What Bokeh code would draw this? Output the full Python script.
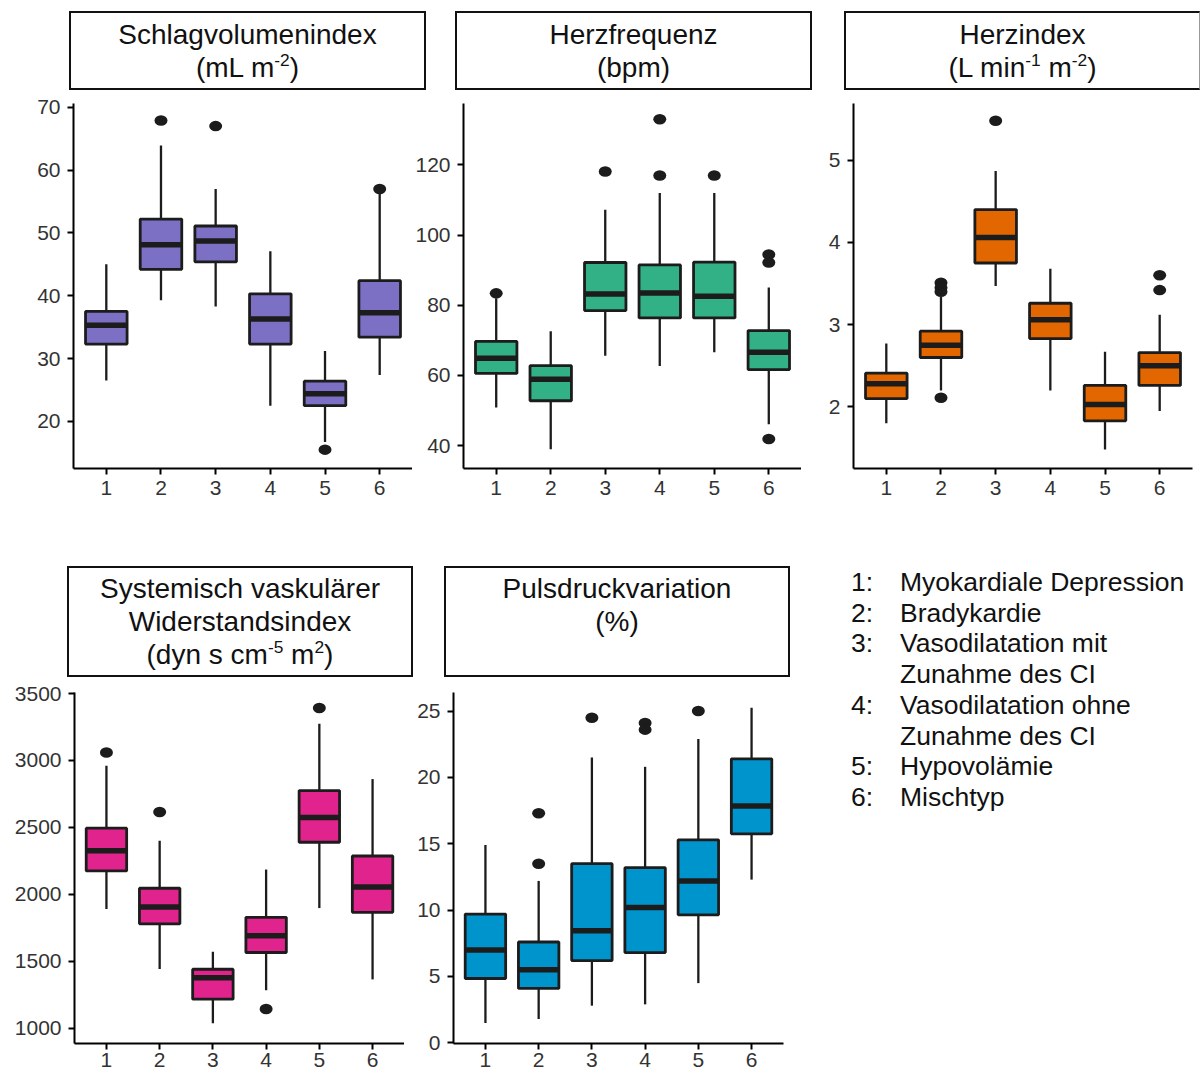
from bokeh.plotting import figure
from bokeh.models import Range1d, FixedTicker, Div
from bokeh.layouts import column, row
from bokeh.embed import file_html
from bokeh.resources import INLINE

# ---------------- data ----------------
groups = [1, 2, 3, 4, 5, 6]
x_labels = ["1", "2", "3", "4", "5", "6"]

# Schlagvolumenindex (mL m-2)
svi_lo = [26.5, 39.3, 38.3, 22.5, 16.7, 27.4]
svi_q1 = [32.3, 44.2, 45.4, 32.3, 22.5, 33.4]
svi_med = [35.3, 48.1, 48.7, 36.3, 24.4, 37.3]
svi_q3 = [37.5, 52.2, 51.1, 40.3, 26.4, 42.4]
svi_hi = [45.0, 63.9, 57.0, 47.1, 31.2, 56.2]
svi_out_x = [2, 3, 5, 6]
svi_out_y = [67.9, 67.0, 15.5, 57.0]
svi_ticks = [20, 30, 40, 50, 60, 70]

# Herzfrequenz (bpm)
hf_lo = [50.9, 39.0, 65.6, 62.7, 66.6, 46.1]
hf_q1 = [60.6, 52.8, 78.5, 76.4, 76.4, 61.7]
hf_med = [64.9, 58.9, 83.2, 83.5, 82.6, 66.6]
hf_q3 = [69.7, 62.8, 92.2, 91.5, 92.3, 72.8]
hf_hi = [82.0, 72.6, 107.2, 112.0, 112.0, 85.1]
hf_out_x = [1, 3, 4, 4, 5, 6, 6, 6]
hf_out_y = [83.4, 118.1, 133.0, 117.0, 117.0, 94.5, 92.2, 41.9]
hf_ticks = [40, 60, 80, 100, 120]

# Herzindex (L min-1 m-2)
hi_lo = [1.80, 2.20, 3.47, 2.20, 1.48, 1.95]
hi_q1 = [2.10, 2.60, 3.75, 2.83, 1.83, 2.26]
hi_med = [2.28, 2.75, 4.06, 3.06, 2.03, 2.50]
hi_q3 = [2.41, 2.92, 4.40, 3.26, 2.26, 2.66]
hi_hi = [2.77, 3.34, 4.87, 3.68, 2.67, 3.12]
hi_out_x = [2, 2, 2, 2, 3, 6, 6]
hi_out_y = [3.51, 3.45, 3.40, 2.11, 5.48, 3.60, 3.42]
hi_ticks = [2, 3, 4, 5]

# Systemisch vaskulärer Widerstandsindex (dyn s cm-5 m2)
svr_lo = [1890, 1442, 1037, 1283, 1897, 1364]
svr_q1 = [2175, 1779, 1216, 1565, 2389, 1865]
svr_med = [2325, 1905, 1376, 1691, 2573, 2054]
svr_q3 = [2494, 2045, 1440, 1828, 2775, 2286]
svr_hi = [2961, 2401, 1570, 2185, 3274, 2861]
svr_out_x = [1, 2, 4, 5]
svr_out_y = [3060, 2615, 1143, 3392]
svr_ticks = [1000, 1500, 2000, 2500, 3000, 3500]

# Pulsdruckvariation (%)
ppv_lo = [1.5, 1.8, 2.8, 2.9, 4.5, 12.3]
ppv_q1 = [4.85, 4.1, 6.2, 6.8, 9.65, 15.75]
ppv_med = [7.0, 5.5, 8.45, 10.2, 12.2, 17.85]
ppv_q3 = [9.7, 7.6, 13.5, 13.2, 15.3, 21.4]
ppv_hi = [14.9, 12.2, 21.5, 20.8, 22.9, 25.25]
ppv_out_x = [2, 2, 3, 4, 4, 5]
ppv_out_y = [17.3, 13.5, 24.5, 24.1, 23.6, 25.0]
ppv_ticks = [0, 5, 10, 15, 20, 25]

legend_nums = ["1:", "2:", "3:", "4:", "5:", "6:"]
legend_texts = ["Myokardiale Depression", "Bradykardie",
                "Vasodilatation mit<br>Zunahme des CI",
                "Vasodilatation ohne<br>Zunahme des CI",
                "Hypovolämie", "Mischtyp"]

FONT = "Liberation Sans"
INK = "#1c1c1c"


def panel(lo, q1, med, q3, hi, ox, oy, color, yr, yticks,
          width, height, mbl, mbr, mbt, mbb, xstand):
    p = figure(width=width, height=height, output_backend="svg",
               toolbar_location=None, x_range=Range1d(0.4, 6.6),
               y_range=Range1d(*yr), min_border_left=mbl,
               min_border_right=mbr, min_border_top=mbt,
               min_border_bottom=mbb)
    p.outline_line_color = None
    p.xgrid.visible = False
    p.ygrid.visible = False
    p.background_fill_color = "white"
    p.border_fill_color = "white"

    p.segment(x0=groups, y0=q3, x1=groups, y1=hi, line_color=INK, line_width=2.3)
    p.segment(x0=groups, y0=q1, x1=groups, y1=lo, line_color=INK, line_width=2.3)
    p.vbar(x=groups, width=0.76, bottom=q1, top=q3, fill_color=color,
           line_color=INK, line_width=2.8)
    p.rect(x=groups, y=med, width=0.76, height=5.5, height_units="screen",
           fill_color=INK, line_color=None)
    p.ellipse(x=ox, y=oy, width=13, height=10.5, width_units="screen",
              height_units="screen", fill_color=INK, line_color=None)

    for ax in (p.xaxis[0], p.yaxis[0]):
        ax.axis_line_color = "black"
        ax.axis_line_width = 2
        ax.major_tick_line_color = "black"
        ax.major_tick_line_width = 2
        ax.major_tick_out = 6
        ax.major_tick_in = 0
        ax.minor_tick_line_color = None
        ax.major_label_text_font = FONT
        ax.major_label_text_font_size = "21px"
        ax.major_label_text_color = "#333333"
    p.xaxis.ticker = FixedTicker(ticks=groups)
    p.xaxis.major_label_overrides = dict(zip(groups, x_labels))
    p.xaxis.major_label_standoff = xstand
    p.yaxis.ticker = FixedTicker(ticks=yticks)
    p.yaxis.major_label_standoff = 7
    return p


p1 = panel(svi_lo, svi_q1, svi_med, svi_q3, svi_hi, svi_out_x, svi_out_y,
           "#7b70c4", (12.5, 70.6), svi_ticks, 412, 458, 73, 0, 13, 80, 6)
p2 = panel(hf_lo, hf_q1, hf_med, hf_q3, hf_hi, hf_out_x, hf_out_y,
           "#33b186", (33.5, 137.5), hf_ticks, 389, 458, 51, 0, 13, 80, 6)
p3 = panel(hi_lo, hi_q1, hi_med, hi_q3, hi_hi, hi_out_x, hi_out_y,
           "#e26700", (1.25, 5.69), hi_ticks, 399, 458, 52, 8, 13, 80, 6)
p4 = panel(svr_lo, svr_q1, svr_med, svr_q3, svr_hi, svr_out_x, svr_out_y,
           "#e0238d", (885, 3508), svr_ticks, 404, 399, 74, 0, 15, 33, 3)
p5 = panel(ppv_lo, ppv_q1, ppv_med, ppv_q3, ppv_hi, ppv_out_x, ppv_out_y,
           "#0094cc", (-0.05, 26.4), ppv_ticks, 386, 399, 49, 7, 15, 33, 3)

BOX = ("position:absolute;box-sizing:border-box;border:2px solid #111;"
       "display:flex;flex-direction:column;justify-content:center;"
       "align-items:center;text-align:center;white-space:nowrap;"
       "font-family:'Liberation Sans',Arial,sans-serif;font-size:28px;"
       "line-height:33px;color:#111;background:white;")
SUP = "<sup style='font-size:62%;line-height:0;vertical-align:0.62em'>"


def box(left, top, w, h, html, extra=""):
    return (f"<div style=\"{BOX}left:{left}px;top:{top}px;width:{w}px;"
            f"height:{h}px;{extra}\">{html}</div>")


top_html = ("<div style='position:relative;width:1200px;height:90px'>"
            + box(69, 11, 357, 79, f"<div>Schlagvolumenindex</div><div>(mL m{SUP}-2</sup>)</div>")
            + box(455, 11, 357, 79, "<div>Herzfrequenz</div><div>(bpm)</div>")
            + box(844, 11, 356, 79, f"<div>Herzindex</div><div>(L min{SUP}-1</sup> m{SUP}-2</sup>)</div>",
                  "border-right:1px solid #999;")
            + "</div>")
top_header = Div(text=top_html, width=1200, height=90, margin=0)

bot_html = ("<div style='position:relative;width:790px;height:129px'>"
            + box(67, 18, 346, 111,
                  f"<div>Systemisch vaskulärer</div><div>Widerstandsindex</div>"
                  f"<div>(dyn s cm{SUP}-5</sup> m{SUP}2</sup>)</div>")
            + box(444, 18, 346, 111,
                  "<div>Pulsdruckvariation</div><div>(%)</div><div>&nbsp;</div>")
            + "</div>")
bot_header = Div(text=bot_html, width=790, height=129, margin=0)

rows = "".join(
    f"<div style='display:flex'><div style='width:49px'>{n}</div>"
    f"<div>{t}</div></div>" for n, t in zip(legend_nums, legend_texts))
legend_html = ("<div style='position:relative;width:410px;height:528px'>"
               "<div style=\"position:absolute;left:61px;top:19px;"
               "font-family:'Liberation Sans',Arial,sans-serif;font-size:26.5px;"
               "line-height:30.7px;color:#111;white-space:nowrap\">"
               + rows + "</div></div>")
legend = Div(text=legend_html, width=410, height=528, margin=0)

layout = column(
    top_header,
    row(p1, p2, p3),
    row(column(bot_header, row(p4, p5)), legend),
)

open("out.html", "w").write(file_html(layout, INLINE))
